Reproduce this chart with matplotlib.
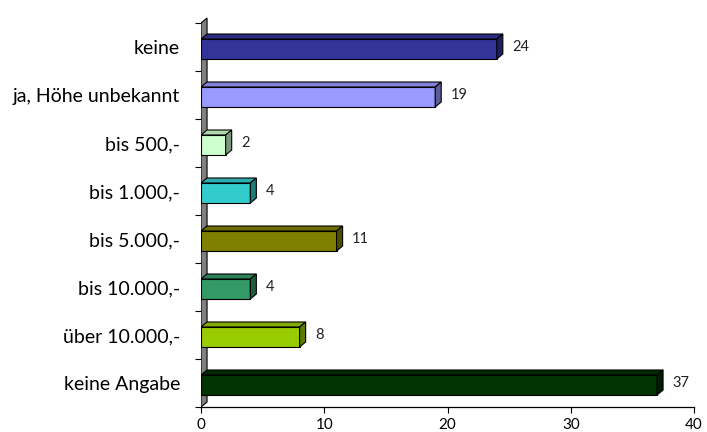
import matplotlib.pyplot as plt
from matplotlib.patches import Polygon
from matplotlib.colors import to_rgb
import numpy as np

plt.rcParams['font.family'] = ['Lato', 'DejaVu Sans']

categories = ['keine', 'ja, Höhe unbekannt', 'bis 500,-', 'bis 1.000,-',
              'bis 5.000,-', 'bis 10.000,-', 'über 10.000,-', 'keine Angabe']
values = [24, 19, 2, 4, 11, 4, 8, 37]
colors = ['#333399', '#9999FF', '#CCFFCC', '#33CCCC',
          '#808000', '#339966', '#99CC00', '#003300']


def shade(c, f):
    r, g, b = to_rgb(c)
    return (r * f, g * f, b * f)


fig = plt.figure(figsize=(7.07, 4.32), dpi=100)
ax = fig.add_axes([201 / 707, 25 / 432, 493 / 707, 392 / 432])

n = len(categories)
dx = 0.49      # depth in x units (~6 px)
dy = 0.104     # depth in slot units (~5 px)
ax.set_xlim(0, 40)
ax.set_ylim(0, 8.167)

# left wall
wall = Polygon([(0, 0), (dx, dy), (dx, n + dy), (0, n)], closed=True,
               facecolor='#808080', edgecolor='black', lw=0.8, zorder=1)
ax.add_patch(wall)

for i, (cat, v, c) in enumerate(zip(categories, values, colors)):
    yc = n - 1 - i + 0.5
    y0 = yc - 0.25
    y1 = yc + 0.167
    front = Polygon([(0, y0), (v, y0), (v, y1), (0, y1)], closed=True,
                    facecolor=c, edgecolor='black', lw=0.8, zorder=3)
    top = Polygon([(0, y1), (v, y1), (v + dx, y1 + dy), (dx, y1 + dy)],
                  closed=True, facecolor=shade(c, 0.85), edgecolor='black',
                  lw=0.8, zorder=3)
    side = Polygon([(v, y0), (v + dx, y0 + dy), (v + dx, y1 + dy), (v, y1)],
                   closed=True, facecolor=shade(c, 0.6), edgecolor='black',
                   lw=0.8, zorder=3)
    for p in (front, top, side):
        ax.add_patch(p)
    ax.text(v + dx + 0.75, (y0 + y1) / 2 + 0.04, str(v), fontsize=10.5,
            va='center', ha='left', color='#222222')

for s in ('top', 'right', 'left'):
    ax.spines[s].set_visible(False)
ax.spines['bottom'].set_linewidth(0.9)

ax.set_xticks([0, 10, 20, 30, 40])
ax.tick_params(axis='x', length=4, width=0.8, labelsize=11, pad=4)
ax.set_yticks(np.arange(n) + 0.5)
ax.set_yticklabels(categories[::-1])
ax.tick_params(axis='y', length=0, labelsize=14, pad=15)
ax.set_yticks(np.arange(n + 1), minor=True)
ax.tick_params(axis='y', which='minor', length=4, width=0.8)

fig.savefig('out.png', dpi=100)
